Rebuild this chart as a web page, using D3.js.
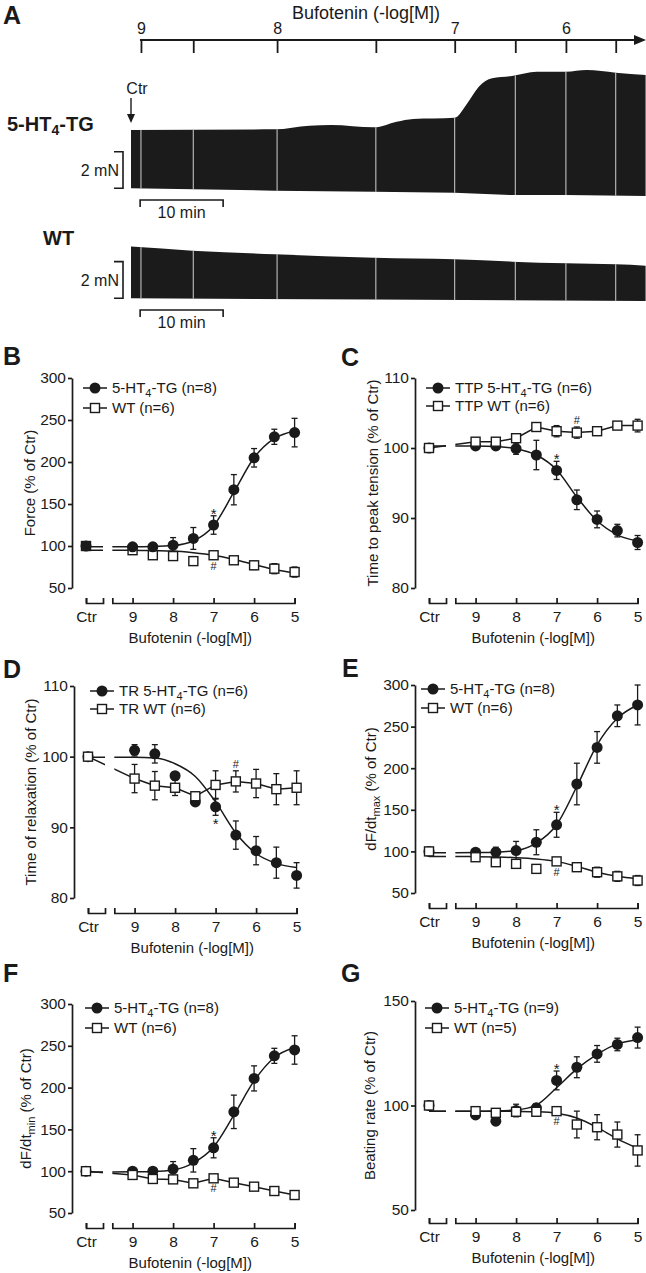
<!DOCTYPE html>
<html><head><meta charset="utf-8">
<script src="https://cdn.jsdelivr.net/npm/d3@7"></script>
<style>
body{margin:0;background:#fff;}
svg{display:block;}
svg text{font-family:"Liberation Sans",Arial,Helvetica,sans-serif;}
</style></head><body>
<svg id="fig" width="646" height="1273"></svg>
<script>
// ---------- Panel A: original recordings ----------
const concTimes = [1.2, 7.5, 17.6, 29.5, 39.0, 46.3, 52.4, 58.4];      // min, additions
const concLabels = ["9", "", "8", "", "7", "", "6", ""];
const traceT   = [0, 17.3, 21.5, 24.1, 29.3, 32.0, 34.0, 39.0, 40.5, 41.9, 43.5, 45.9, 48.9, 52.4, 54.9, 58.4, 62.0];
const tgTop    = [3.83, 3.86, 4.06, 4.10, 3.97, 4.28, 4.43, 4.50, 5.28, 6.19, 6.65, 6.78, 7.01, 7.01, 7.10, 6.96, 6.83];
const tgBotT   = [0, 17.3, 29.3, 39.0, 45.9, 52.4, 62.0];
const tgBot    = [0.64, 0.51, 0.45, 0.40, 0.27, 0.27, 0.22];
const wtTopT   = [0, 7.4, 17.3, 29.3, 39.0, 45.9, 52.4, 58.4, 62.0];
const wtTop    = [3.19, 2.97, 2.77, 2.58, 2.50, 2.37, 2.28, 2.22, 2.15];
const wtBotT   = [0, 29.3, 62.0];
const wtBot    = [0.37, 0.30, 0.22];

// ---------- Concentration-response panels ----------
const ctrPos = 10.15, gapStart = 9.73, gapEnd = 9.5;
const doses  = [ctrPos, 9, 8.5, 8, 7.5, 7, 6.5, 6, 5.5, 5];
const xTicks = [9, 8, 7, 6, 5];
const curveX = [ctrPos, gapStart, 9.5, 9, 8.5, 8, 7.5, 7, 6.5, 6, 5.5, 5];

const ticks300 = [50, 100, 150, 200, 250, 300];
const ticks110 = [80, 90, 100, 110];
const ticks150 = [50, 100, 150];

// B Force
const forceTG    = [100, 99, 99, 101, 109, 125, 167, 205, 230, 235];
const forceTGerr = [0, 3, 4, 9, 13, 11, 18, 11, 9, 17];
const forceWT    = [100, 95, 89, 88, 82, 89, 83, 77, 73, 69];
const forceWTerr = [0, 2, 2, 3, 2, 3, 4, 5, 6, 6];
const forceTGfit = [99, 99, 99, 99, 99.3, 100.5, 106, 124, 164, 205, 228, 237];
const forceWTfit = [95, 95, 95, 95, 94.5, 94, 92, 89, 84, 78, 72, 68];

// C Time to peak tension
const ttpTG    = [100, 100.3, 100.3, 99.9, 99.0, 96.8, 92.6, 89.8, 88.2, 86.5];
const ttpTGerr = [0, 0.3, 0.3, 0.8, 2.1, 1.3, 1.4, 1.2, 0.9, 1.0];
const ttpWT    = [100, 100.9, 100.9, 101.4, 103.0, 102.4, 102.2, 102.4, 103.2, 103.2];
const ttpWTerr = [0, 0.3, 0.3, 0.4, 0.4, 0.8, 0.8, 0.6, 0.5, 0.9];
const ttpTGfit = [100.3, 100.3, 100.3, 100.3, 100.2, 99.9, 99.0, 96.9, 93.0, 89.6, 87.6, 86.7];

// D Time of relaxation
const trTG    = [100, 100.9, 100.4, 97.3, 93.6, 92.9, 88.9, 86.7, 85.0, 83.2];
const trTGerr = [0, 0.8, 1.3, 0.3, 0.3, 1.2, 2.0, 2.0, 2.2, 1.8];
const trWT    = [100, 96.9, 95.9, 95.6, 94.4, 96.0, 96.5, 96.2, 95.4, 95.6];
const trWTerr = [0, 2.0, 2.0, 1.1, 0.4, 2.0, 1.5, 2.0, 2.2, 2.4];
const trTGfit = [99.9, 99.9, 99.9, 99.9, 99.8, 99.0, 97.2, 93.6, 89.2, 86.3, 84.9, 84.3];

// E dF/dt max
const dmaxTG    = [100, 99, 99, 101, 111, 132, 181, 225, 263, 276];
const dmaxTGerr = [0, 3, 6, 11, 15, 15, 25, 19, 13, 24];
const dmaxWT    = [100, 93, 87, 85, 79, 88, 81, 75, 70, 65];
const dmaxWTerr = [0, 2, 2, 3, 2, 3, 5, 6, 6, 6];
const dmaxTGfit = [98.5, 98.5, 98.5, 98.6, 99, 101, 110, 132, 178, 228, 260, 276];
const dmaxWTfit = [94, 94, 94, 93.6, 93.2, 92.5, 91, 88, 82, 75, 70, 67];

// F dF/dt min
const dminTG    = [100, 100, 100, 102.5, 113, 128, 171, 211, 238, 245];
const dminTGerr = [0, 2, 2, 9, 14, 12, 20, 15, 9, 17];
const dminWT    = [100, 95.5, 90.7, 90.2, 85.5, 91.5, 86.3, 81.5, 76.3, 71.5];
const dminWTerr = [0, 2, 2, 2, 2, 2, 3, 3, 4, 4];
const dminTGfit = [99, 99, 99, 99.2, 99.6, 101.5, 110, 129, 167, 208, 236, 248];

// G Beating rate
const rateTG    = [100, 95.5, 92.5, 97.6, 98.9, 112, 118.3, 124.7, 129.2, 132.5];
const rateTGerr = [0, 1, 1, 3, 2, 4.5, 5, 4, 3, 5];
const rateWT    = [100, 97.3, 96.5, 97, 97, 97.3, 90.9, 89.6, 86.1, 78.5];
const rateWTerr = [0, 0.5, 0.5, 0.7, 0.7, 0.8, 6.4, 6, 6, 7.5];
const rateTGfit = [97.3, 97.3, 97.3, 97.3, 97.4, 97.9, 100.2, 108.5, 117.5, 124.5, 129.5, 131.5];
const rateWTfit = [97.3, 97.3, 97.3, 97.3, 97.3, 97.2, 97.0, 96.3, 94.0, 89.5, 84, 79.5];

// ---------------------------------------------------------------
const INK = "#1a1a1a";
const svg = d3.select("#fig");

function richText(sel, str, subSize) {
  const parts = str.split(/_\{([^}]*)\}/);
  let shifted = false;
  parts.forEach((p, i) => {
    if (p === "") return;
    if (i % 2 === 1) {
      sel.append("tspan").attr("dy", 4).attr("font-size", subSize).text(p);
      shifted = true;
    } else {
      const t = sel.append("tspan").text(p);
      if (shifted) { t.attr("dy", -4); shifted = false; }
    }
  });
}

function letter(t, x, y) {
  svg.append("text").attr("x", x).attr("y", y).attr("font-size", 25).attr("font-weight", "bold")
    .attr("fill", INK).text(t);
}

// ---------------- Panel A ----------------
letter("A", 3, 24);
const tA = d3.scaleLinear().domain([0, 62]).range([131, 645.6]);
const yTG = d3.scaleLinear().domain([0, 7]).range([200, 71.9]);
const yWT = d3.scaleLinear().domain([0, 7]).range([305, 176.9]);

// top concentration axis
const topAx = svg.append("g").attr("transform", "translate(0,40)")
  .call(d3.axisTop(tA).tickValues(concTimes).tickSizeInner(-13).tickSizeOuter(0).tickPadding(6)
    .tickFormat((d, i) => concLabels[i]));
topAx.attr("font-family", null).attr("font-size", null);
topAx.select(".domain").remove();
topAx.selectAll("line").attr("stroke", INK).attr("stroke-width", 1.8);
topAx.selectAll("text").attr("font-size", 16).attr("fill", INK);
svg.append("line").attr("x1", tA(concTimes[0]) - 1).attr("x2", 636).attr("y1", 40).attr("y2", 40)
  .attr("stroke", INK).attr("stroke-width", 2.2);
svg.append("path").attr("d", "M634,35 L646,40 L634,45 Z").attr("fill", INK);
svg.append("text").attr("x", 366).attr("y", 19).attr("text-anchor", "middle").attr("font-size", 18)
  .attr("fill", INK).text("Bufotenin (-log[M])");

function drawTrace(id, topT, top, botT, bot, ys) {
  const topLine = d3.line().curve(d3.curveMonotoneX);
  const topPts = topT.map((t, i) => [tA(t), ys(top[i])]);
  const botPts = botT.map((t, i) => [tA(t), ys(bot[i])]).reverse();
  const d = topLine(topPts) + "L" + botPts.map(p => p.join(",")).join("L") + "Z";
  svg.append("clipPath").attr("id", id).append("path").attr("d", d);
  svg.append("path").attr("d", d).attr("fill", "#1b1b1b");
  svg.append("g").attr("clip-path", `url(#${id})`).selectAll("line").data(concTimes).join("line")
    .attr("x1", d => tA(d)).attr("x2", d => tA(d)).attr("y1", 0).attr("y2", 400)
    .attr("stroke", "#d0d0d0").attr("stroke-width", 1);
}
drawTrace("trTG", traceT, tgTop, tgBotT, tgBot, yTG);
drawTrace("trWT", wtTopT, wtTop, wtBotT, wtBot, yWT);

// Ctr arrow
svg.append("text").attr("x", 137).attr("y", 94).attr("text-anchor", "middle").attr("font-size", 16)
  .attr("fill", INK).text("Ctr");
svg.append("line").attr("x1", tA(0)).attr("x2", tA(0)).attr("y1", 98).attr("y2", 116)
  .attr("stroke", INK).attr("stroke-width", 1.4);
svg.append("path").attr("d", `M${tA(0)-4},114 L${tA(0)+4},114 L${tA(0)},123 Z`).attr("fill", INK);

// group labels
const tgLab = svg.append("text").attr("x", 7).attr("y", 131).attr("font-size", 20).attr("font-weight", "bold").attr("fill", INK);
richText(tgLab, "5-HT_{4}-TG", 14);
svg.append("text").attr("x", 43).attr("y", 245).attr("font-size", 20).attr("font-weight", "bold").attr("fill", INK).text("WT");

function scaleBars(ys, lo, hi, barY) {
  const y0 = ys(lo), y1 = ys(hi), xb = 123;
  svg.append("path").attr("d", `M${xb-9},${y1} H${xb} V${y0} H${xb-9}`).attr("fill", "none")
    .attr("stroke", INK).attr("stroke-width", 1.6);
  svg.append("text").attr("x", xb - 4).attr("y", (y0 + y1) / 2 + 6).attr("text-anchor", "end")
    .attr("font-size", 16).attr("fill", INK).text("2 mN");
  const xa = tA(1.1), xz = tA(11.1);
  svg.append("path").attr("d", `M${xa},${barY+7} V${barY} H${xz} V${barY+7}`).attr("fill", "none")
    .attr("stroke", INK).attr("stroke-width", 1.6);
  svg.append("text").attr("x", (xa + xz) / 2).attr("y", barY + 18).attr("text-anchor", "middle")
    .attr("font-size", 16).attr("fill", INK).text("10 min");
}
scaleBars(yTG, 0.64, 2.64, 200);
scaleBars(yWT, 0.37, 2.37, 310);

// ---------------- Panels B-G ----------------
const panels = [
  {id: "B", lx: 3, ly: 365, ax: 72, top: 378, bottom: 588, xAxisY: 603, yDomain: [50, 300], yTicks: ticks300,
   title: "Force (% of Ctr)", titleX: 35, legX: 95, legY: [388, 408],
   tgName: "5-HT_{4}-TG (n=8)", wtName: "WT (n=6)",
   tg: forceTG, tgErr: forceTGerr, wt: forceWT, wtErr: forceWTerr,
   tgFit: forceTGfit, wtFit: forceWTfit, tgOnTop: true,
   notes: [{s: "tg", i: 5, sym: "*", pos: "above"}, {s: "wt", i: 5, sym: "#", pos: "below"}]},
  {id: "C", lx: 341, ly: 366, ax: 415, top: 378, bottom: 588, xAxisY: 603, yDomain: [80, 110], yTicks: ticks110,
   title: "Time to peak tension (% of Ctr)", titleX: 378, legX: 438, legY: [388, 406],
   tgName: "TTP 5-HT_{4}-TG (n=6)", wtName: "TTP WT (n=6)",
   tg: ttpTG, tgErr: ttpTGerr, wt: ttpWT, wtErr: ttpWTerr,
   tgFit: ttpTGfit, wtFit: null, tgOnTop: false,
   notes: [{s: "tg", i: 5, sym: "*", pos: "above"}, {s: "wt", i: 6, sym: "#", pos: "above"}]},
  {id: "D", lx: 3, ly: 678, ax: 74, top: 686, bottom: 898, xAxisY: 913, yDomain: [80, 110], yTicks: ticks110,
   title: "Time of relaxation (% of Ctr)", titleX: 36, legX: 102, legY: [691, 709],
   tgName: "TR 5-HT_{4}-TG (n=6)", wtName: "TR WT (n=6)",
   tg: trTG, tgErr: trTGerr, wt: trWT, wtErr: trWTerr,
   tgFit: trTGfit, wtFit: null, tgOnTop: false,
   notes: [{s: "tg", i: 5, sym: "*", pos: "below"}, {s: "wt", i: 6, sym: "#", pos: "above"}]},
  {id: "E", lx: 342, ly: 677, ax: 415, top: 685, bottom: 893, xAxisY: 908, yDomain: [50, 300], yTicks: ticks300,
   title: "dF/dt_{max} (% of Ctr)", titleX: 376, legX: 433, legY: [689, 708],
   tgName: "5-HT_{4}-TG (n=8)", wtName: "WT (n=6)",
   tg: dmaxTG, tgErr: dmaxTGerr, wt: dmaxWT, wtErr: dmaxWTerr,
   tgFit: dmaxTGfit, wtFit: dmaxWTfit, tgOnTop: false,
   notes: [{s: "tg", i: 5, sym: "*", pos: "above"}, {s: "wt", i: 5, sym: "#", pos: "below"}]},
  {id: "F", lx: 3, ly: 982, ax: 72, top: 1004, bottom: 1213, xAxisY: 1228, yDomain: [50, 300], yTicks: ticks300,
   title: "dF/dt_{min} (% of Ctr)", titleX: 31, legX: 97, legY: [1008, 1028],
   tgName: "5-HT_{4}-TG (n=8)", wtName: "WT (n=6)",
   tg: dminTG, tgErr: dminTGerr, wt: dminWT, wtErr: dminWTerr,
   tgFit: dminTGfit, wtFit: null, tgOnTop: false,
   notes: [{s: "tg", i: 5, sym: "*", pos: "above"}, {s: "wt", i: 5, sym: "#", pos: "below"}]},
  {id: "G", lx: 341, ly: 982, ax: 415, top: 1001, bottom: 1210, xAxisY: 1223, yDomain: [50, 150], yTicks: ticks150,
   title: "Beating rate (% of Ctr)", titleX: 375, legX: 437, legY: [1008, 1028],
   tgName: "5-HT_{4}-TG (n=9)", wtName: "WT (n=5)",
   tg: rateTG, tgErr: rateTGerr, wt: rateWT, wtErr: rateWTerr,
   tgFit: rateTGfit, wtFit: rateWTfit, tgOnTop: false,
   notes: [{s: "tg", i: 5, sym: "*", pos: "above"}, {s: "wt", i: 5, sym: "#", pos: "below"}]}
];

function marker(sel, type, cx, cy) {
  if (type === "tg") {
    sel.append("circle").attr("cx", cx).attr("cy", cy).attr("r", 5.5).attr("fill", INK);
  } else {
    sel.append("rect").attr("x", cx - 4.5).attr("y", cy - 4.5).attr("width", 9).attr("height", 9)
      .attr("fill", "#fff").attr("stroke", INK).attr("stroke-width", 1.4);
  }
}

function styleAxis(g) {
  g.attr("font-family", null).attr("font-size", null);
  g.selectAll("path, line").attr("stroke", INK).attr("stroke-width", 1.7);
  g.selectAll("text").attr("font-size", 15.5).attr("fill", INK);
}

function drawPanel(p) {
  letter(p.id, p.lx, p.ly);
  const x = d3.scaleLinear().domain([ctrPos, 5]).range([p.ax + 14, p.ax + 222.6]);
  const y = d3.scaleLinear().domain(p.yDomain).range([p.bottom, p.top]);
  const g = svg.append("g");

  // clip path that breaks lines at the axis gap
  const cid = "clip" + p.id;
  const cp = svg.append("clipPath").attr("id", cid);
  cp.append("rect").attr("x", x(ctrPos) - 10).attr("width", x(gapStart) - x(ctrPos) + 10)
    .attr("y", p.top - 40).attr("height", p.bottom - p.top + 80);
  cp.append("rect").attr("x", x(gapEnd)).attr("width", x(5) - x(gapEnd) + 12)
    .attr("y", p.top - 40).attr("height", p.bottom - p.top + 80);

  // y axis
  const ya = g.append("g").attr("transform", `translate(${p.ax},0)`)
    .call(d3.axisLeft(y).tickValues(p.yTicks).tickSize(4).tickSizeOuter(0).tickPadding(2).tickFormat(d3.format("d")));
  styleAxis(ya);
  const yt = g.append("text").attr("transform", `translate(${p.titleX},${(p.top + p.bottom) / 2}) rotate(-90)`)
    .attr("text-anchor", "middle").attr("font-size", 15).attr("fill", INK);
  richText(yt, p.title, 11);

  // x axes (broken)
  const xMain = d3.scaleLinear().domain([gapEnd, 5]).range([x(gapEnd), x(5)]);
  const xm = g.append("g").attr("transform", `translate(0,${p.xAxisY})`)
    .call(d3.axisBottom(xMain).tickValues(xTicks).tickFormat(d3.format("d")).tickSizeInner(-5).tickSizeOuter(-5).tickPadding(8));
  styleAxis(xm);
  const xCtr = d3.scaleLinear().domain([ctrPos, gapStart]).range([x(ctrPos), x(gapStart)]);
  const xc = g.append("g").attr("transform", `translate(0,${p.xAxisY})`)
    .call(d3.axisBottom(xCtr).tickValues([ctrPos]).tickFormat(() => "Ctr").tickSizeInner(-5).tickSizeOuter(-5).tickPadding(8));
  styleAxis(xc);
  g.append("text").attr("x", (x(ctrPos) + x(5)) / 2).attr("y", p.xAxisY + 40).attr("text-anchor", "middle")
    .attr("font-size", 15).attr("fill", INK).text("Bufotenin (-log[M])");

  // lines
  const lines = g.append("g").attr("clip-path", `url(#${cid})`).attr("fill", "none")
    .attr("stroke", INK).attr("stroke-width", 1.5);
  const fitLine = d3.line().x(d => x(d[0])).y(d => y(d[1])).curve(d3.curveMonotoneX);
  const ptLine = d3.line().x(d => x(d[0])).y(d => y(d[1]));
  function addLine(fit, vals) {
    if (fit) {
      const pts = curveX.map((c, i) => [c, fit[i]]).sort((a, b) => b[0] - a[0]);
      lines.append("path").attr("d", fitLine(pts));
    } else {
      lines.append("path").attr("d", ptLine(doses.map((c, i) => [c, vals[i]])));
    }
  }
  addLine(p.wtFit, p.wt);
  addLine(p.tgFit, p.tg);

  // error bars
  const eb = g.append("g").attr("stroke", INK).attr("stroke-width", 1.3);
  function addErr(vals, errs) {
    vals.forEach((v, i) => {
      const e = errs[i];
      if (!e) return;
      const cx = x(doses[i]);
      eb.append("line").attr("x1", cx).attr("x2", cx).attr("y1", y(v - e)).attr("y2", y(v + e));
      eb.append("line").attr("x1", cx - 3).attr("x2", cx + 3).attr("y1", y(v - e)).attr("y2", y(v - e));
      eb.append("line").attr("x1", cx - 3).attr("x2", cx + 3).attr("y1", y(v + e)).attr("y2", y(v + e));
    });
  }
  addErr(p.wt, p.wtErr);
  addErr(p.tg, p.tgErr);

  // markers
  const mk = g.append("g");
  const order = p.tgOnTop ? ["wt", "tg"] : ["tg", "wt"];
  order.forEach(s => {
    const vals = s === "tg" ? p.tg : p.wt;
    vals.forEach((v, i) => marker(mk, s, x(doses[i]), y(v)));
  });

  // significance marks
  p.notes.forEach(n => {
    const v = n.s === "tg" ? p.tg[n.i] : p.wt[n.i];
    const e = n.s === "tg" ? p.tgErr[n.i] : p.wtErr[n.i];
    const cx = x(doses[n.i]);
    let yy;
    if (n.sym === "*") yy = n.pos === "above" ? y(v + e) + 3 : y(v - e) + 13.5;
    else yy = n.pos === "above" ? y(v + e) - 3 : y(v - e) + 12;
    g.append("text").attr("x", cx).attr("y", yy).attr("text-anchor", "middle")
      .attr("font-size", n.sym === "*" ? 15 : 11).attr("fill", INK).text(n.sym);
  });

  // legend
  const lg = g.append("g");
  [["tg", p.tgName], ["wt", p.wtName]].forEach(([s, name], k) => {
    const ly = p.legY[k];
    lg.append("line").attr("x1", p.legX - 12).attr("x2", p.legX + 12).attr("y1", ly).attr("y2", ly)
      .attr("stroke", INK).attr("stroke-width", 1.5);
    marker(lg, s, p.legX, ly);
    const t = lg.append("text").attr("x", p.legX + 17).attr("y", ly + 5).attr("font-size", 15).attr("fill", INK);
    richText(t, name, 11);
  });
}

panels.forEach(drawPanel);
</script>
</body></html>
